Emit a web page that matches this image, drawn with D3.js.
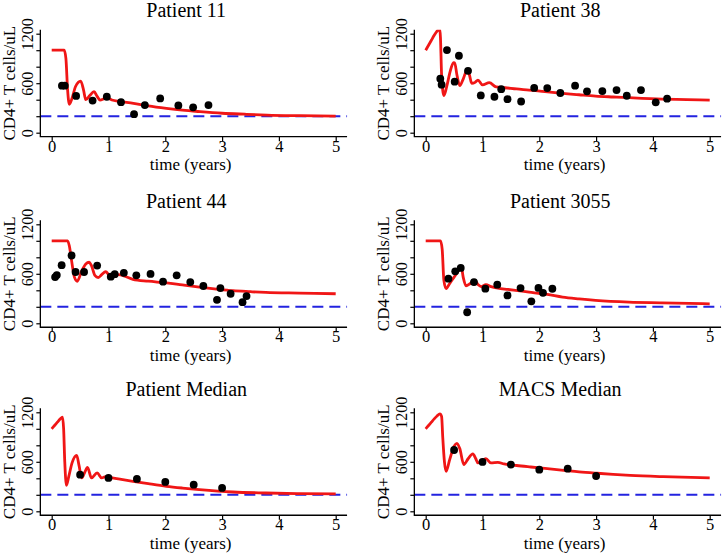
<!DOCTYPE html>
<html><head><meta charset="utf-8">
<script src="https://cdn.jsdelivr.net/npm/d3@7"></script>
<style>
html,body{margin:0;padding:0;background:#fff;}
svg{display:block;font-family:"Liberation Serif","Times New Roman",serif;font-weight:normal;}
svg text{font-family:"Liberation Serif","Times New Roman",serif;font-weight:normal;}
</style></head>
<body>
<svg id="chart" width="726" height="553"></svg>
<script>
// ---------- data ----------
const panelTitles = ["Patient 11", "Patient 38", "Patient 44", "Patient 3055", "Patient Median", "MACS Median"];
const xTicks = [0, 1, 2, 3, 4, 5];
const yTicks = [0, 200, 400, 600, 800, 1000, 1200];
const yTickLabels = [0, 600, 1200];
const threshold = 200;

const p11CurveT = [0, 0.22, 0.25, 0.28, 0.31, 0.36, 0.42, 0.51, 0.56, 0.6, 0.67, 0.745, 0.8, 0.85, 0.9, 0.96, 1.06, 1.2, 1.44, 1.7, 2.02, 2.3, 2.61, 3.0, 3.4, 3.79, 4.37, 5];
const p11CurveV = [1000, 1000, 900, 520, 345, 420, 560, 626, 520, 400, 450, 497, 440, 396, 405, 428, 396, 380, 356, 325, 295, 273, 255, 236, 224, 214, 206, 200];
const p11DotT = [0.18, 0.23, 0.43, 0.72, 0.97, 1.22, 1.45, 1.64, 1.91, 2.23, 2.49, 2.76];
const p11DotV = [570, 570, 446, 390, 436, 370, 225, 335, 415, 331, 307, 335];

const p38CurveT = [0, 0.05, 0.1, 0.15, 0.2, 0.245, 0.26, 0.28, 0.32, 0.37, 0.43, 0.49, 0.51, 0.55, 0.6, 0.66, 0.73, 0.77, 0.81, 0.87, 0.92, 1.0, 1.12, 1.24, 1.4, 1.6, 1.82, 2.1, 2.41, 2.7, 2.99, 3.3, 3.58, 4.16, 4.6, 5];
const p38CurveV = [1000, 1060, 1120, 1180, 1230, 1265, 1150, 700, 450, 560, 740, 850, 848, 700, 570, 650, 760, 700, 598, 610, 638, 580, 606, 555, 545, 530, 517, 497, 477, 460, 444, 433, 424, 408, 402, 396];
const p38DotT = [0.257, 0.28, 0.374, 0.51, 0.585, 0.745, 0.97, 1.21, 1.33, 1.44, 1.68, 1.91, 2.14, 2.37, 2.63, 2.84, 3.11, 3.36, 3.54, 3.79, 4.05, 4.25];
const p38DotV = [655, 582, 1002, 618, 933, 750, 452, 436, 528, 406, 378, 543, 541, 481, 570, 501, 505, 517, 448, 517, 368, 412];

const p44CurveT = [0, 0.28, 0.31, 0.35, 0.4, 0.45, 0.52, 0.6, 0.66, 0.7, 0.76, 0.82, 0.88, 0.95, 1.02, 1.1, 1.18, 1.27, 1.43, 1.7, 2.02, 2.3, 2.6, 2.9, 3.19, 3.5, 3.77, 4.36, 5];
const p44CurveV = [1000, 1000, 940, 760, 560, 510, 620, 720, 740, 700, 580, 555, 590, 625, 580, 570, 590, 575, 533, 510, 490, 465, 439, 415, 395, 383, 374, 366, 358];
const p44DotT = [0.06, 0.09, 0.175, 0.35, 0.42, 0.57, 0.8, 1.04, 1.11, 1.27, 1.49, 1.74, 1.96, 2.2, 2.44, 2.67, 2.91, 2.97, 3.15, 3.36, 3.43];
const p44DotV = [560, 585, 704, 822, 622, 622, 700, 565, 596, 612, 582, 598, 504, 582, 500, 452, 285, 427, 358, 256, 330];

const p3055CurveT = [0, 0.26, 0.29, 0.32, 0.36, 0.42, 0.5, 0.58, 0.625, 0.66, 0.71, 0.78, 0.86, 0.92, 0.975, 1.06, 1.15, 1.27, 1.45, 1.62, 1.82, 2.14, 2.41, 2.7, 2.99, 3.58, 4.16, 5];
const p3055CurveV = [1000, 1000, 900, 520, 420, 480, 560, 640, 690, 560, 455, 480, 521, 470, 445, 470, 445, 425, 410, 395, 378, 350, 317, 295, 277, 256, 248, 236];
const p3055DotT = [0.4, 0.52, 0.617, 0.73, 0.85, 1.05, 1.26, 1.44, 1.67, 1.86, 1.985, 2.065, 2.23];
const p3055DotV = [541, 630, 671, 134, 500, 420, 468, 338, 427, 266, 429, 370, 419];

const medCurveT = [0, 0.05, 0.1, 0.15, 0.19, 0.21, 0.23, 0.26, 0.3, 0.36, 0.44, 0.48, 0.53, 0.58, 0.63, 0.7, 0.8, 0.88, 0.95, 1.02, 1.2, 1.43, 1.7, 2.02, 2.3, 2.6, 3.19, 3.77, 4.36, 5];
const medCurveV = [1000, 1040, 1080, 1120, 1140, 1000, 600, 315, 420, 590, 679, 560, 404, 470, 533, 404, 465, 404, 420, 412, 390, 364, 335, 303, 282, 263, 234, 222, 214, 210];
const medDotT = [0.5, 1, 1.5, 2, 2.5, 3];
const medDotV = [444, 404, 392, 356, 323, 283];

const macsCurveT = [0, 0.05, 0.1, 0.15, 0.2, 0.25, 0.28, 0.3, 0.33, 0.36, 0.42, 0.5, 0.55, 0.6, 0.67, 0.75, 0.83, 0.88, 0.92, 0.98, 1.06, 1.15, 1.27, 1.38, 1.6, 1.85, 2.1, 2.43, 2.7, 3.02, 3.3, 3.6, 4.18, 5];
const macsCurveV = [1000, 1040, 1080, 1120, 1155, 1180, 1150, 900, 600, 485, 620, 790, 824, 760, 566, 640, 695, 640, 586, 610, 638, 586, 594, 574, 555, 537, 520, 497, 478, 461, 448, 436, 420, 404];
const macsDotT = [0.5, 1, 1.5, 2, 2.5, 3];
const macsDotV = [743, 598, 566, 505, 517, 428];

// ---------- layout ----------
const curvesT = [p11CurveT, p38CurveT, p44CurveT, p3055CurveT, medCurveT, macsCurveT];
const curvesV = [p11CurveV, p38CurveV, p44CurveV, p3055CurveV, medCurveV, macsCurveV];
const dotsT = [p11DotT, p38DotT, p44DotT, p3055DotT, medDotT, macsDotT];
const dotsV = [p11DotV, p38DotV, p44DotV, p3055DotV, medDotV, macsDotV];

const colX = [51.7, 425.7];
const rowY = [33.7, 224.3, 412.3];
const xSpan = 284, ySpan = 99;
const RED = "#f01616", BLUE = "#2323e0";
const FONT = "Liberation Serif, Times New Roman, serif";

const svg = d3.select("#chart");
svg.append("rect").attr("width", 726).attr("height", 553).attr("fill", "#fff");

panelTitles.forEach((title, i) => {
  const x0 = colX[i % 2], yTop = rowY[Math.floor(i / 2)];
  const x = d3.scaleLinear().domain([0, 5]).range([x0, x0 + xSpan]);
  const y = d3.scaleLinear().domain([0, 1200]).range([yTop + ySpan, yTop]);
  const left = x(-0.2), right = x(5.2), top = y(1248), bottom = y(-48);
  const g = svg.append("g");

  const clipId = "clip" + i;
  svg.append("clipPath").attr("id", clipId).append("rect")
    .attr("x", left).attr("y", top).attr("width", right - left).attr("height", bottom - top);

  // threshold dashed line
  g.append("line").attr("x1", left).attr("x2", right)
    .attr("y1", y(threshold)).attr("y2", y(threshold))
    .attr("stroke", BLUE).attr("stroke-width", 2).attr("stroke-dasharray", "11,6");

  // model curve
  const pts = curvesT[i].map((t, k) => [t, curvesV[i][k]]);
  const line = d3.line().x(d => x(d[0])).y(d => y(d[1])).curve(d3.curveMonotoneX);
  g.append("path").attr("d", line(pts)).attr("fill", "none")
    .attr("stroke", RED).attr("stroke-width", 2.8).attr("stroke-linejoin", "round")
    .attr("clip-path", `url(#${clipId})`);

  // data dots
  g.selectAll("circle.dot").data(dotsT[i].map((t, k) => [t, dotsV[i][k]])).enter()
    .append("circle").attr("class", "dot")
    .attr("cx", d => x(d[0])).attr("cy", d => y(d[1])).attr("r", 3.9).attr("fill", "#000");

  // L-box
  g.append("path").attr("d", `M${left},${top}V${bottom}H${right}`)
    .attr("fill", "none").attr("stroke", "#000").attr("stroke-width", 1.3);

  // x axis
  const xa = g.append("g").attr("transform", `translate(0,${bottom})`)
    .call(d3.axisBottom(x).tickValues(xTicks).tickSize(4.5).tickSizeOuter(0).tickFormat(d3.format("d")));
  xa.attr("font-family", FONT);
  xa.select(".domain").remove();
  xa.selectAll(".tick line").attr("stroke", "#000").attr("stroke-width", 1.2);
  xa.selectAll(".tick text").attr("y", 15).attr("dy", 0)
    .attr("font-size", 16.5).attr("fill", "#000").attr("font-family", FONT);

  // y axis
  const ya = g.append("g").attr("transform", `translate(${left},0)`)
    .call(d3.axisLeft(y).tickValues(yTicks).tickSize(4).tickSizeOuter(0)
      .tickFormat(d => yTickLabels.includes(d) ? String(d) : ""));
  ya.attr("font-family", FONT);
  ya.select(".domain").remove();
  ya.selectAll(".tick line").attr("stroke", "#000").attr("stroke-width", 1.2);
  ya.selectAll(".tick text").attr("transform", "rotate(-90)")
    .attr("x", 0).attr("y", -7).attr("dy", 0).attr("text-anchor", "middle")
    .attr("font-size", 16).attr("fill", "#000").attr("font-family", FONT);

  // labels
  g.append("text").attr("x", x0 + 134.5).attr("y", yTop - 16.5)
    .attr("text-anchor", "middle").attr("font-size", 20).attr("font-family", FONT).text(title);
  g.append("text").attr("x", x0 + 139).attr("y", yTop + 136.5)
    .attr("text-anchor", "middle").attr("font-size", 17).attr("font-family", FONT).text("time (years)");
  g.append("text").attr("transform", `translate(${x0 - 36.5},${yTop + 49.5}) rotate(-90)`)
    .attr("text-anchor", "middle").attr("font-size", 17).attr("font-family", FONT).text("CD4+ T cells/uL");
});
</script>
</body></html>
